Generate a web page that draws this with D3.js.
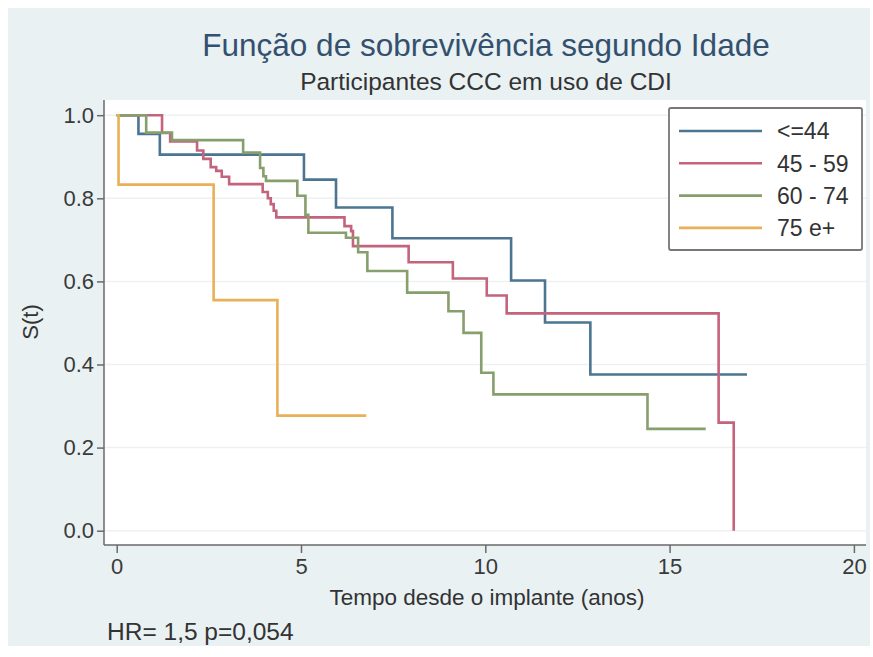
<!DOCTYPE html>
<html>
<head>
<meta charset="utf-8">
<script src="https://cdn.jsdelivr.net/npm/d3@7"></script>
<style>
  body { margin: 0; background: #fff; }
  text { font-family: "Liberation Sans", Arial, sans-serif; }
</style>
</head>
<body>
<div id="chart"></div>
<script>
var width = 873;
var height = 657;

// Kaplan-Meier steps (tempo em anos, S(t))
var groups = ["<=44", "45 - 59", "60 - 74", "75 e+"];
var colors = ["#4b7591", "#c4637c", "#869f6c", "#e9b057"];

var timeA = [0, 0.59, 1.17, 5.08, 5.95, 7.48, 10.7, 11.62, 12.85, 17.1];
var survA = [1, 0.955, 0.905, 0.845, 0.778, 0.704, 0.602, 0.501, 0.376, 0.376];

var timeB = [0, 1.23, 1.45, 2.18, 2.35, 2.55, 2.7, 2.85, 3.05, 3.96, 4.1, 4.18, 4.26, 4.33, 6.18, 6.36, 6.41, 7.92, 9.12, 10.04, 10.58, 16.33, 16.74];
var survB = [1, 0.957, 0.937, 0.915, 0.895, 0.875, 0.866, 0.852, 0.834, 0.815, 0.8, 0.786, 0.77, 0.754, 0.733, 0.721, 0.685, 0.646, 0.607, 0.566, 0.523, 0.26, 0];

var timeC = [0, 0.8, 1.5, 3.43, 3.89, 3.98, 4.05, 4.9, 5.12, 5.2, 6.22, 6.55, 6.8, 7.88, 9.0, 9.41, 9.89, 10.22, 14.4, 15.98];
var survC = [1, 0.958, 0.94, 0.91, 0.873, 0.853, 0.842, 0.806, 0.76, 0.717, 0.705, 0.67, 0.625, 0.573, 0.528, 0.476, 0.38, 0.328, 0.245, 0.245];

var timeD = [0, 0.05, 2.63, 4.36, 6.77];
var survD = [1, 0.833, 0.555, 0.277, 0.277];

var xTicks = [0, 5, 10, 15, 20];
var yTicks = [0, 0.2, 0.4, 0.6, 0.8, 1.0];

var series = [
  { name: groups[0], color: colors[0], t: timeA, s: survA },
  { name: groups[1], color: colors[1], t: timeB, s: survB },
  { name: groups[2], color: colors[2], t: timeC, s: survC },
  { name: groups[3], color: colors[3], t: timeD, s: survD }
];

var svg = d3.select("#chart").append("svg")
  .attr("width", width)
  .attr("height", height);

// fundo azul claro (estilo Stata) e area do grafico branca
svg.append("rect")
  .attr("x", 8).attr("y", 8)
  .attr("width", 862).attr("height", 638)
  .attr("fill", "#e9f1f3");

var plot = { left: 104, right: 866, top: 100, bottom: 545 };

svg.append("rect")
  .attr("x", plot.left).attr("y", plot.top)
  .attr("width", plot.right - plot.left)
  .attr("height", plot.bottom - plot.top)
  .attr("fill", "#fff");

var x = d3.scaleLinear().domain([0, 20]).range([116.7, 853.9]);
var y = d3.scaleLinear().domain([0, 1]).range([530.7, 115.2]);

// grade horizontal
svg.append("g")
  .selectAll("line")
  .data(yTicks)
  .enter().append("line")
  .attr("x1", plot.left)
  .attr("x2", plot.right)
  .attr("y1", function(d) { return y(d); })
  .attr("y2", function(d) { return y(d); })
  .attr("stroke", "#eef1f1")
  .attr("stroke-width", 1.5);

// eixos
var yAxis = svg.append("g")
  .attr("transform", "translate(" + plot.left + ",0)")
  .call(d3.axisLeft(y).tickValues(yTicks).tickFormat(d3.format(".1f")).tickSize(7).tickPadding(3));
var xAxis = svg.append("g")
  .attr("transform", "translate(0," + plot.bottom + ")")
  .call(d3.axisBottom(x).tickValues(xTicks).tickFormat(d3.format("d")).tickSize(8).tickPadding(5));

[yAxis, xAxis].forEach(function(ax) {
  ax.select(".domain").remove();
  ax.selectAll(".tick line").attr("stroke", "#6a6a6a").attr("stroke-width", 1.5);
  ax.selectAll(".tick text")
    .attr("fill", "#3a3a3a")
    .style("font-size", "22px")
    .style("font-family", "Liberation Sans, Arial, sans-serif");
});

svg.append("line")
  .attr("x1", plot.left).attr("x2", plot.left)
  .attr("y1", plot.top).attr("y2", plot.bottom)
  .attr("stroke", "#6a6a6a").attr("stroke-width", 1.5);
svg.append("line")
  .attr("x1", plot.left).attr("x2", plot.right)
  .attr("y1", plot.bottom).attr("y2", plot.bottom)
  .attr("stroke", "#6a6a6a").attr("stroke-width", 1.5);

// curvas de sobrevida
var line = d3.line()
  .x(function(d) { return x(d[0]); })
  .y(function(d) { return y(d[1]); })
  .curve(d3.curveStepAfter);

svg.append("g")
  .selectAll("path")
  .data(series)
  .enter().append("path")
  .attr("d", function(d) { return line(d3.zip(d.t, d.s)); })
  .attr("fill", "none")
  .attr("stroke", function(d) { return d.color; })
  .attr("stroke-width", 2.6)
  .attr("stroke-linejoin", "miter");

// legenda
var legend = svg.append("g");
legend.append("rect")
  .attr("x", 669).attr("y", 108)
  .attr("width", 193).attr("height", 142)
  .attr("rx", 2)
  .attr("fill", "#fff")
  .attr("stroke", "#777")
  .attr("stroke-width", 1.8);

var items = legend.selectAll(".item")
  .data(series)
  .enter().append("g")
  .attr("class", "item")
  .attr("transform", function(d, i) { return "translate(0," + (131 + i * 32.3) + ")"; });

items.append("line")
  .attr("x1", 679).attr("x2", 762)
  .attr("stroke", function(d) { return d.color; })
  .attr("stroke-width", 2.6);

items.append("text")
  .attr("x", 777)
  .attr("dy", "0.36em")
  .attr("fill", "#333")
  .style("font-size", "23px")
  .text(function(d) { return d.name; });

// titulos
svg.append("text")
  .attr("x", 486).attr("y", 56)
  .attr("text-anchor", "middle")
  .attr("fill", "#33506e")
  .style("font-size", "31.5px")
  .text("Função de sobrevivência segundo Idade");

svg.append("text")
  .attr("x", 486).attr("y", 90)
  .attr("text-anchor", "middle")
  .attr("fill", "#333")
  .style("font-size", "24.5px")
  .text("Participantes CCC em uso de CDI");

svg.append("text")
  .attr("transform", "translate(38,322) rotate(-90)")
  .attr("text-anchor", "middle")
  .attr("fill", "#333")
  .style("font-size", "22px")
  .text("S(t)");

svg.append("text")
  .attr("x", 487).attr("y", 605)
  .attr("text-anchor", "middle")
  .attr("fill", "#333")
  .style("font-size", "22.5px")
  .text("Tempo desde o implante (anos)");

svg.append("text")
  .attr("x", 107).attr("y", 640)
  .attr("fill", "#333")
  .style("font-size", "24.5px")
  .text("HR= 1,5 p=0,054");
</script>
</body>
</html>
